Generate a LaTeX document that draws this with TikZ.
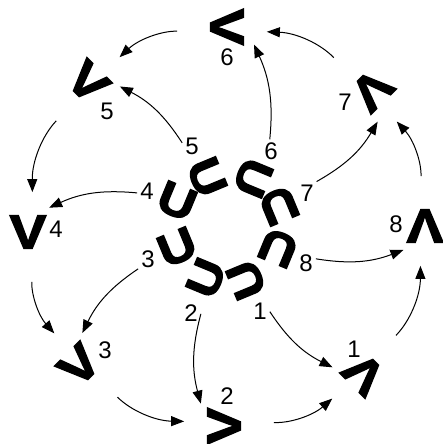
\documentclass[tikz,border=0pt]{standalone}
\usepackage{fontspec}
\setmainfont{Liberation Sans}
\newfontfamily\glyphfont[FakeStretch=1.15, FakeBold=3]{Liberation Sans}
\usetikzlibrary{arrows.meta}

\begin{document}
\begin{tikzpicture}[
    x=1pt, y=-1pt,
    vletter/.style={circle, inner sep=0pt, minimum size=64pt, font=\glyphfont\bfseries\fontsize{48}{48}\selectfont},
    uletter/.style={inner sep=0pt, font=\glyphfont\bfseries\fontsize{45}{45}\selectfont},
    tag/.style={inner sep=3pt, font=\fontsize{24}{24}\selectfont},
    arrow/.style={line width=1pt, -{Triangle[length=13pt,width=10pt]}},
    spoke/.style={arrow, bend right=15},
    ring/.style={arrow, bend right=22, shorten <=18pt, shorten >=8pt}
]
\useasboundingbox (0,0) rectangle (442,444);

% Outer ring
\node[vletter, rotate=-90] (v6) at (227,27) {V};
\node[vletter, rotate=-45] (v5) at (88,82) {V};
\node[vletter] (v4) at (28,232) {V};
\node[vletter, rotate=45] (v3) at (79,365) {V};
\node[vletter, rotate=90] (v2) at (224,426) {V};
\node[vletter, rotate=135] (v1) at (364,374) {V};
\node[vletter, rotate=180] (v8) at (425,226) {V};
\node[vletter, rotate=-135] (v7) at (372,90) {V};

\node[tag] (vl6) at (227,57) {6};
\node[tag] (vl5) at (107,111) {5};
\node[tag] (vl4) at (56,229) {4};
\node[tag] (vl3) at (105,350) {3};
\node[tag] (vl2) at (227,396) {2};
\node[tag] (vl1) at (354,349) {1};
\node[tag] (vl8) at (396,224) {8};
\node[tag] (vl7) at (345,102) {7};

% Inner ring
\node[uletter, rotate=-67.5] (u5) at (207,177) {U};
\node[uletter, rotate=-112.5] (u6) at (253,178) {U};
\node[uletter, rotate=-157.5] (u7) at (279,206) {U};
\node[uletter, rotate=157.5] (u8) at (278,248) {U};
\node[uletter, rotate=112.5] (u1) at (246,280) {U};
\node[uletter, rotate=67.5] (u2) at (206,278) {U};
\node[uletter, rotate=22.5] (u3) at (177,247) {U};
\node[uletter, rotate=-22.5] (u4) at (177,201) {U};

\node[tag] (ul5) at (192,146) {5};
\node[tag] (ul6) at (271,151) {6};
\node[tag] (ul7) at (307,193) {7};
\node[tag] (ul8) at (306,263) {8};
\node[tag] (ul1) at (260,311) {1};
\node[tag] (ul2) at (191,313) {2};
\node[tag] (ul3) at (148,259) {3};
\node[tag] (ul4) at (147,191) {4};

% Spokes
\draw[spoke] (ul5.162) to (v5.37);
\draw[spoke] (ul4.191) to (v4.49);
\draw[spoke] (ul6.96) to (v6.57);
\draw[spoke] (ul7.50) to (v7.55);
\draw[spoke] (ul3.225) to (v3.39);
\draw[spoke] (ul2.-5) to (v2.46);
\draw[spoke] (ul1.-4) to (v1.33);
\draw[spoke] (ul8.23) to (v8.48);

% Ring
\draw[ring] (v6.278) to (v5.82);
\draw[ring] (v5.278) to (v4.82);
\draw[ring] (v4.278) to (v3.82);
\draw[ring] (v3.278) to (v2.82);
\draw[ring] (v2.278) to (v1.82);
\draw[ring] (v1.278) to (v8.82);
\draw[ring] (v8.278) to (v7.82);
\draw[ring] (v7.278) to (v6.82);

\end{tikzpicture}
\end{document}
